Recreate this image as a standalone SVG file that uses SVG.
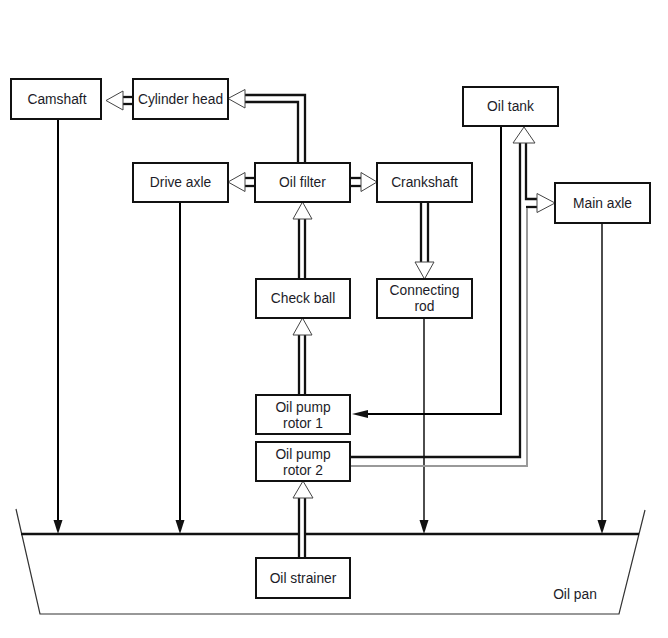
<svg xmlns="http://www.w3.org/2000/svg" width="668" height="638" viewBox="0 0 668 638">
<style>
.box{fill:#fff;stroke:#111;stroke-width:2}
.t{font-family:"Liberation Sans",Arial,sans-serif;font-size:13.8px;fill:#1c1c28;text-anchor:middle}
.pipe{fill:none;stroke:#111;stroke-width:2.3}
.head{fill:#fff;stroke:#444;stroke-width:1}
.ln{fill:none;stroke:#000}
.fh{fill:#111;stroke:none}
.pan{fill:none;stroke:#333;stroke-width:1.2}
</style>
<rect width="668" height="638" fill="#fff"/>
<g id="oil-pan">
<polyline class="pan" points="16,509 40,614 619,614 645,510"/>
<line x1="21" y1="534" x2="639" y2="534" stroke="#111" stroke-width="2.5"/>
<text class="t" x="575" y="599">Oil pan</text>
</g>
<g id="connectors">
<line class="ln" stroke-width="2" x1="58" y1="119" x2="58" y2="522"/>
<polygon class="fh" points="53.5,520 62.5,520 58,534"/>
<line class="ln" stroke-width="2" x1="180" y1="202" x2="180" y2="522"/>
<polygon class="fh" points="175.5,520 184.5,520 180,534"/>
<line class="ln" stroke-width="1.4" x1="424" y1="318" x2="424" y2="522"/>
<polygon class="fh" points="419.5,520 428.5,520 424,534"/>
<line class="ln" stroke-width="1.4" x1="602" y1="223" x2="602" y2="522"/>
<polygon class="fh" points="597.5,520 606.5,520 602,534"/>
<polyline class="ln" stroke-width="2" points="501,126 501,414 366,414"/>
<polygon class="fh" points="368,410 368,418 352,414"/>
<line class="pipe" x1="133" y1="97" x2="123" y2="97"/>
<line class="pipe" x1="133" y1="104" x2="123" y2="104"/>
<polygon class="head" points="123,91 123,110 106,100.5"/>
<polyline class="pipe" points="305,163 305,95 245,95"/>
<polyline class="pipe" points="298,163 298,102 245,102"/>
<polygon class="head" points="245,89.5 245,108 228,98.5"/>
<line class="pipe" x1="255" y1="178" x2="245" y2="178"/>
<line class="pipe" x1="255" y1="186" x2="245" y2="186"/>
<polygon class="head" points="245,172.5 245,191.5 228,182"/>
<line class="pipe" x1="350" y1="178" x2="361" y2="178"/>
<line class="pipe" x1="350" y1="186" x2="361" y2="186"/>
<polygon class="head" points="361,172.5 361,191.5 377,182"/>
<line class="pipe" x1="299" y1="279" x2="299" y2="219"/>
<line class="pipe" x1="305" y1="279" x2="305" y2="219"/>
<polygon class="head" points="293,219 312,219 302.5,202"/>
<line class="pipe" x1="299" y1="395" x2="299" y2="335"/>
<line class="pipe" x1="305" y1="395" x2="305" y2="335"/>
<polygon class="head" points="293,335 312,335 302.5,318"/>
<rect x="299" y="498" width="6" height="60" fill="#fff"/>
<line class="pipe" x1="299" y1="558" x2="299" y2="498"/>
<line class="pipe" x1="305" y1="558" x2="305" y2="498"/>
<polygon class="head" points="293,498 313,498 303,481"/>
<line class="pipe" x1="421" y1="202" x2="421" y2="262"/>
<line class="pipe" x1="428" y1="202" x2="428" y2="262"/>
<polygon class="head" points="415,262 434,262 424.5,279"/>
<polyline class="pipe" points="350,457 520,457 520,143"/>
<polyline class="pipe" points="526,143 526,199 537,199"/>
<line class="pipe" x1="526" y1="207" x2="537" y2="207"/>
<polyline fill="none" stroke="#999" stroke-width="2" points="527,208 527,466 350,466"/>
<polygon class="head" points="513,143 535,143 524,127"/>
<polygon class="head" points="537,193.5 537,212.5 555,203"/>
</g>
<g id="camshaft"><rect class="box" x="11" y="79" width="90" height="40"/><text class="t" x="57" y="103.5">Camshaft</text></g>
<g id="cylinder-head"><rect class="box" x="133" y="79" width="95" height="40"/><text class="t" x="180.5" y="103.5">Cylinder head</text></g>
<g id="oil-tank"><rect class="box" x="463" y="87" width="95" height="39"/><text class="t" x="510.5" y="111">Oil tank</text></g>
<g id="drive-axle"><rect class="box" x="133" y="163" width="95" height="39"/><text class="t" x="180.5" y="187">Drive axle</text></g>
<g id="oil-filter"><rect class="box" x="255" y="163" width="95" height="39"/><text class="t" x="302.5" y="187">Oil filter</text></g>
<g id="crankshaft"><rect class="box" x="377" y="163" width="95" height="39"/><text class="t" x="424.5" y="187">Crankshaft</text></g>
<g id="main-axle"><rect class="box" x="555" y="183" width="95" height="40"/><text class="t" x="602.5" y="207.5">Main axle</text></g>
<g id="check-ball"><rect class="box" x="256" y="279" width="94" height="39"/><text class="t" x="303" y="303">Check ball</text></g>
<g id="connecting-rod"><rect class="box" x="377" y="279" width="95" height="39"/><text class="t" x="424.5" y="295">Connecting</text><text class="t" x="424.5" y="311">rod</text></g>
<g id="oil-pump-rotor-1"><rect class="box" x="256" y="395" width="94" height="39"/><text class="t" x="303" y="411.5">Oil pump</text><text class="t" x="303" y="428">rotor 1</text></g>
<g id="oil-pump-rotor-2"><rect class="box" x="256" y="442" width="94" height="39"/><text class="t" x="303" y="458.5">Oil pump</text><text class="t" x="303" y="475">rotor 2</text></g>
<g id="oil-strainer"><rect class="box" x="256" y="558" width="94" height="40"/><text class="t" x="303" y="582.5">Oil strainer</text></g>
</svg>
